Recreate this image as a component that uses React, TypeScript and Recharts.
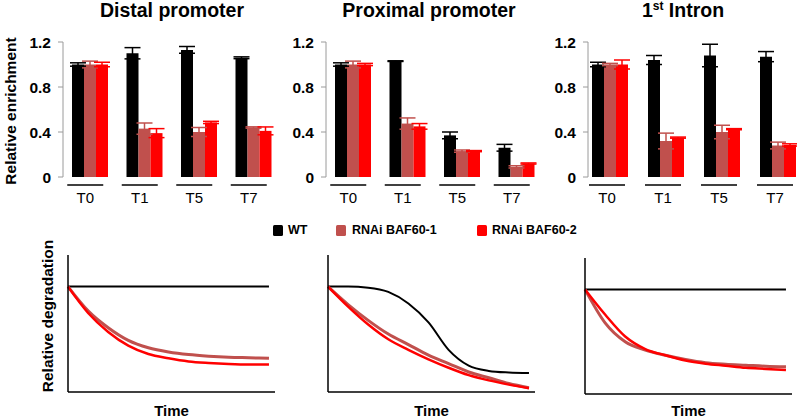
import React from 'react'
import { BarChart, Bar, XAxis, YAxis, ErrorBar, LineChart, Line } from 'recharts'

const FONT = '"Liberation Sans", Arial, sans-serif'
const WT_COLOR = '#000000'
const B1_COLOR = '#c0504d'
const B2_COLOR = '#ff0000'

// top panels: relative enrichment
const timepoints = ['T0', 'T1', 'T5', 'T7']

const distalWT = [1.0, 1.1, 1.13, 1.06]
const distalWTErr = [0.015, 0.05, 0.03, 0.008]
const distalB1 = [1.0, 0.43, 0.4, 0.44]
const distalB1Err = [0.03, 0.05, 0.04, 0.006]
const distalB2 = [1.0, 0.39, 0.485, 0.41]
const distalB2Err = [0.02, 0.04, 0.01, 0.035]

const proximalWT = [1.0, 1.03, 0.37, 0.26]
const proximalWTErr = [0.015, 0.003, 0.03, 0.03]
const proximalB1 = [1.0, 0.475, 0.23, 0.09]
const proximalB1Err = [0.03, 0.05, 0.01, 0.01]
const proximalB2 = [1.0, 0.45, 0.23, 0.12]
const proximalB2Err = [0.01, 0.025, 0.005, 0.005]

const intronWT = [1.0, 1.04, 1.08, 1.07]
const intronWTErr = [0.02, 0.04, 0.1, 0.045]
const intronB1 = [1.0, 0.32, 0.4, 0.28]
const intronB1Err = [0.01, 0.07, 0.06, 0.03]
const intronB2 = [1.0, 0.35, 0.425, 0.285]
const intronB2Err = [0.04, 0.005, 0.005, 0.01]

const enrichTicks = [0, 0.4, 0.8, 1.2]

// bottom panels: relative degradation (schematic)
const timeSteps = [0, 1, 2, 3, 4, 5, 6, 7, 8, 9, 10]

const degAWT = [1, 1, 1, 1, 1, 1, 1, 1, 1, 1, 1]
const degAB1 = [1.0, 0.77, 0.61, 0.49, 0.42, 0.38, 0.355, 0.34, 0.33, 0.325, 0.32]
const degAB2 = [1.0, 0.75, 0.57, 0.44, 0.36, 0.32, 0.29, 0.275, 0.265, 0.26, 0.26]

const degBWT = [1.0, 1.0, 0.99, 0.95, 0.84, 0.66, 0.4, 0.25, 0.2, 0.185, 0.18]
const degBB1 = [1.0, 0.83, 0.68, 0.55, 0.45, 0.35, 0.27, 0.19, 0.135, 0.08, 0.04]
const degBB2 = [1.0, 0.81, 0.64, 0.5, 0.4, 0.31, 0.23, 0.16, 0.11, 0.07, 0.035]

const degCWT = [1, 1, 1, 1, 1, 1, 1, 1, 1, 1, 1]
const degCB1 = [1.0, 0.68, 0.5, 0.42, 0.37, 0.33, 0.3, 0.285, 0.275, 0.265, 0.26]
const degCB2 = [1.0, 0.76, 0.55, 0.43, 0.37, 0.32, 0.29, 0.27, 0.25, 0.24, 0.23]

function barRows(wt: number[], wtErr: number[], b1: number[], b1Err: number[], b2: number[], b2Err: number[]) {
  return timepoints.map((t, i) => ({
    t,
    wt: wt[i], wtErr: wtErr[i],
    b1: b1[i], b1Err: b1Err[i],
    b2: b2[i], b2Err: b2Err[i],
  }))
}

function lineRows(wt: number[], b1: number[], b2: number[]) {
  return timeSteps.map((t, i) => ({ t, wt: wt[i], b1: b1[i], b2: b2[i] }))
}

const CategoryTick = (props: any) => {
  const { x, y, payload, shift } = props
  const cx = x + shift
  return (
    <g>
      <line x1={cx - 18} x2={cx + 18} y1={y + 8} y2={y + 8} stroke="#000" strokeWidth={1.5} />
      <text x={cx} y={y + 26} textAnchor="middle" fontSize={15} fontFamily={FONT} fill="#000">
        {payload.value}
      </text>
    </g>
  )
}

interface EnrichProps {
  left: number
  data: any[]
  shift: number
  padLeft?: number
  yLabel?: boolean
}

function EnrichPanel({ left, data, shift, padLeft = 0, yLabel }: EnrichProps) {
  return (
    <div style={{ position: 'absolute', left, top: 0 }}>
      <BarChart
        width={290}
        height={210}
        data={data}
        margin={{ top: 42, right: 9, left: 0, bottom: 0 }}
        barGap={0}
      >
        <XAxis
          dataKey="t"
          axisLine={false}
          tickLine={false}
          tickSize={0}
          tickMargin={0}
          height={33}
          interval={0}
          padding={{ left: padLeft, right: 0 }}
          tick={(p: any) => <CategoryTick {...p} shift={shift} />}
        />
        <YAxis
          width={63}
          domain={[0, 1.2]}
          ticks={enrichTicks}
          tickFormatter={(v: number) => (v === 0 ? '0' : v.toFixed(1))}
          stroke="#9a9a9a"
          tickSize={5}
          tickMargin={7}
          tick={{ fontSize: 15.5, fontWeight: 'bold', fill: '#000', fontFamily: FONT }}
          label={
            yLabel
              ? {
                  content: () => (
                    <text
                      x={10}
                      y={111}
                      transform="rotate(-90 10 111)"
                      textAnchor="middle"
                      dominantBaseline="central"
                      fontSize={15.5}
                      fontWeight="bold"
                      fontFamily={FONT}
                      fill="#000"
                    >
                      Relative enrichment
                    </text>
                  ),
                }
              : undefined
          }
        />
        <Bar dataKey="wt" fill={WT_COLOR} barSize={12} isAnimationActive={false}>
          <ErrorBar dataKey="wtErr" width={8} stroke={WT_COLOR} strokeWidth={1.5} />
        </Bar>
        <Bar dataKey="b1" fill={B1_COLOR} barSize={12} isAnimationActive={false}>
          <ErrorBar dataKey="b1Err" width={8} stroke={B1_COLOR} strokeWidth={1.5} />
        </Bar>
        <Bar dataKey="b2" fill={B2_COLOR} barSize={12} isAnimationActive={false}>
          <ErrorBar dataKey="b2Err" width={8} stroke={B2_COLOR} strokeWidth={1.5} />
        </Bar>
      </BarChart>
    </div>
  )
}

interface DegProps {
  left: number
  top: number
  data: any[]
  yLabel?: boolean
}

function DegPanel({ left, top, data, yLabel }: DegProps) {
  const height = 418 - top
  const plotBottom = top === 240 ? 392 : 394
  return (
    <div style={{ position: 'absolute', left, top }}>
      <LineChart width={277} height={height} data={data} margin={{ top: 15, right: 2, left: 0, bottom: 0 }}>
        <XAxis
          dataKey="t"
          type="number"
          domain={[0, 10.3]}
          tick={false}
          tickLine={false}
          stroke="#000"
          strokeWidth={1.5}
          height={418 - plotBottom}
          label={{
            content: (p: any) => {
              const vb = p.viewBox
              return (
                <text
                  x={vb.x + vb.width / 2}
                  y={410 - top}
                  textAnchor="middle"
                  dominantBaseline="central"
                  fontSize={15}
                  fontWeight="bold"
                  fontFamily={FONT}
                  fill="#000"
                >
                  Time
                </text>
              )
            },
          }}
        />
        <YAxis
          width={68}
          domain={[0, 1.3]}
          tick={false}
          tickLine={false}
          stroke="#000"
          strokeWidth={1.5}
          label={
            yLabel
              ? {
                  content: () => (
                    <text
                      x={47}
                      y={76}
                      transform="rotate(-90 47 76)"
                      textAnchor="middle"
                      dominantBaseline="central"
                      fontSize={15.5}
                      fontWeight="bold"
                      fontFamily={FONT}
                      fill="#000"
                    >
                      Relative degradation
                    </text>
                  ),
                }
              : undefined
          }
        />
        <Line type="monotone" dataKey="wt" stroke={WT_COLOR} strokeWidth={2} dot={false} isAnimationActive={false} />
        <Line type="monotone" dataKey="b1" stroke={B1_COLOR} strokeWidth={3} dot={false} isAnimationActive={false} />
        <Line type="monotone" dataKey="b2" stroke={B2_COLOR} strokeWidth={2.5} dot={false} isAnimationActive={false} />
      </LineChart>
    </div>
  )
}

const titleStyle: React.CSSProperties = {
  position: 'absolute',
  top: 0,
  width: 240,
  lineHeight: '21px',
  textAlign: 'center',
  fontSize: 19.5,
  fontWeight: 'bold',
  fontFamily: FONT,
  color: '#000',
}

const legendText: React.CSSProperties = {
  position: 'absolute',
  top: 222,
  lineHeight: '16px',
  fontSize: 12.5,
  fontWeight: 'bold',
  fontFamily: FONT,
  color: '#000',
  whiteSpace: 'nowrap',
}

const swatch = (left: number, color: string): React.CSSProperties => ({
  position: 'absolute',
  left,
  top: 225,
  width: 10,
  height: 11,
  borderRadius: 1.5,
  background: color,
})

export default function App() {
  const distal = barRows(distalWT, distalWTErr, distalB1, distalB1Err, distalB2, distalB2Err)
  const proximal = barRows(proximalWT, proximalWTErr, proximalB1, proximalB1Err, proximalB2, proximalB2Err)
  const intron = barRows(intronWT, intronWTErr, intronB1, intronB1Err, intronB2, intronB2Err)

  return (
    <div
      style={{
        position: 'absolute',
        left: 0,
        top: 0,
        width: 797,
        height: 418,
        overflow: 'hidden',
        background: '#fff',
      }}
    >
      <div style={{ ...titleStyle, left: 172 - 120 }}>Distal promoter</div>
      <div style={{ ...titleStyle, left: 429 - 120 }}>Proximal promoter</div>
      <div style={{ ...titleStyle, left: 683 - 120 }}>
        1<sup style={{ fontSize: 12, lineHeight: 0 }}>st</sup> Intron
      </div>

      <EnrichPanel left={0} data={distal} shift={-5} yLabel />
      <EnrichPanel left={263} data={proximal} shift={-5} />
      <EnrichPanel left={525} data={intron} shift={-3} padLeft={-6} />

      <div style={swatch(273, WT_COLOR)} />
      <div style={{ ...legendText, left: 288 }}>WT</div>
      <div style={swatch(336, B1_COLOR)} />
      <div style={{ ...legendText, left: 352 }}>RNAi BAF60-1</div>
      <div style={swatch(477, B2_COLOR)} />
      <div style={{ ...legendText, left: 492 }}>RNAi BAF60-2</div>

      <DegPanel left={0} top={240} data={lineRows(degAWT, degAB1, degAB2)} yLabel />
      <DegPanel left={260} top={240} data={lineRows(degBWT, degBB1, degBB2)} />
      <DegPanel left={517} top={243} data={lineRows(degCWT, degCB1, degCB2)} />
    </div>
  )
}
